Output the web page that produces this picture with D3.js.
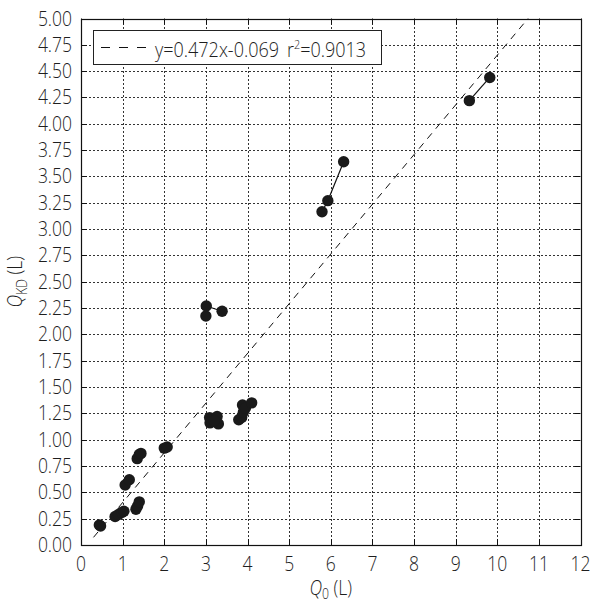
<!DOCTYPE html>
<html>
<head>
<meta charset="utf-8">
<script src="https://cdn.jsdelivr.net/npm/d3@7"></script>
<style>
  html, body { margin: 0; padding: 0; background: #fff; }
  svg { display: block; }
  text { font-family: "Open Sans", "Noto Sans", sans-serif; font-weight: 300; fill: #1e1e1e; }
</style>
</head>
<body>
<svg id="chart" width="590" height="603"></svg>
<script>
// Measured pairs: Q0 (L) against QKD (L); points sharing a group id are joined
const q0  = [9.82, 9.33,
             6.31, 5.93, 5.79,
             3.00, 3.01, 3.39,
             3.09, 3.27, 3.10, 3.30, 3.20,
             3.79, 3.86, 3.90, 3.88, 3.95, 4.10,
             0.44, 0.47,
             0.82, 0.90, 0.98, 1.03,
             1.06, 1.16,
             1.35, 1.40, 1.44,
             2.00, 2.07,
             1.32, 1.36, 1.40];
const qkd = [4.44, 4.22,
             3.64, 3.27, 3.165,
             2.175, 2.27, 2.22,
             1.21, 1.22, 1.16, 1.15, 1.18,
             1.19, 1.21, 1.26, 1.33, 1.30, 1.35,
             0.19, 0.18,
             0.27, 0.29, 0.31, 0.32,
             0.57, 0.62,
             0.82, 0.86, 0.87,
             0.92, 0.93,
             0.34, 0.37, 0.41];
const group = [1, 1,
               2, 2, 2,
               3, 3, 3,
               4, 4, 4, 4, 4,
               5, 5, 5, 5, 5, 5,
               6, 6,
               7, 7, 7, 7,
               8, 8,
               9, 9, 9,
               10, 10,
               11, 11, 11];

// Fitted regression
const slope = 0.472, intercept = -0.069, r2 = 0.9013;
const fitStart = 0.3;

const xTicks = d3.range(0, 13, 1);
const yTicks = d3.range(0, 5.001, 0.25);

const svg = d3.select("#chart");
const margin = { left: 81, right: 9.5, top: 18.5, bottom: 58 };
const W = 590, H = 603;

const x = d3.scaleLinear().domain([0, 12]).range([margin.left, W - margin.right]);
const y = d3.scaleLinear().domain([0, 5]).range([H - margin.bottom, margin.top]);

const x0 = x(0), x1 = x(12), y0 = y(0), y1 = y(5);
const sx = 0.875; // narrow the glyphs

// Dotted grid
const grid = svg.append("g").attr("stroke", "#333").attr("stroke-width", 1)
  .attr("stroke-dasharray", "2,2");
grid.selectAll("line.v").data(xTicks.slice(1, -1)).join("line")
  .attr("x1", d => Math.round(x(d)) + 0.5).attr("x2", d => Math.round(x(d)) + 0.5)
  .attr("y1", y0).attr("y2", y1);
grid.selectAll("line.h").data(yTicks.slice(1, -1)).join("line")
  .attr("y1", d => Math.round(y(d)) + 0.5).attr("y2", d => Math.round(y(d)) + 0.5)
  .attr("x1", x0).attr("x2", x1);

// Inward ticks on all four sides
const tk = svg.append("g").attr("stroke", "#111").attr("stroke-width", 1);
xTicks.forEach(d => {
  const px = Math.round(x(d)) + 0.5;
  tk.append("line").attr("x1", px).attr("x2", px).attr("y1", y0).attr("y2", y0 - 6);
  tk.append("line").attr("x1", px).attr("x2", px).attr("y1", y1).attr("y2", y1 + 6);
});
yTicks.forEach(d => {
  const py = Math.round(y(d)) + 0.5;
  tk.append("line").attr("y1", py).attr("y2", py).attr("x1", x0).attr("x2", x0 + 6);
  tk.append("line").attr("y1", py).attr("y2", py).attr("x1", x1).attr("x2", x1 - 6);
});

// Frame
svg.append("rect")
  .attr("x", Math.round(x0) + 0.5).attr("y", Math.round(y1) + 0.5)
  .attr("width", Math.round(x1) - Math.round(x0)).attr("height", Math.round(y0) - Math.round(y1))
  .attr("fill", "none").attr("stroke", "#111").attr("stroke-width", 1.2);

// Tick labels
svg.append("g").selectAll("text").data(xTicks).join("text")
  .attr("transform", d => `translate(${x(d)},${y0 + 26}) scale(${sx},1)`)
  .attr("text-anchor", "middle").attr("font-size", 20)
  .text(d => d);
svg.append("g").selectAll("text").data(yTicks).join("text")
  .attr("transform", d => `translate(${x0 - 9},${y(d) + 7}) scale(${sx},1)`)
  .attr("text-anchor", "end").attr("font-size", 20)
  .text(d => d3.format(".2f")(d));

// Axis titles
const xt = svg.append("text")
  .attr("transform", `translate(${(x0 + x1) / 2},${595}) scale(${sx},1)`)
  .attr("text-anchor", "middle").attr("font-size", 20);
xt.append("tspan").attr("font-style", "italic").text("Q");
xt.append("tspan").attr("font-size", 14).attr("dy", 4).text("0");
xt.append("tspan").attr("dy", -4).text(" (L)");

const yt = svg.append("text")
  .attr("transform", `translate(${22},${(y0 + y1) / 2}) rotate(-90) scale(${sx},1)`)
  .attr("text-anchor", "middle").attr("font-size", 20);
yt.append("tspan").attr("font-style", "italic").text("Q");
yt.append("tspan").attr("font-size", 14).attr("dy", 5).text("KD");
yt.append("tspan").attr("dy", -5).text(" (L)");

// Regression line, clipped to the plot frame
const fitEnd = Math.min(12, (5 - intercept) / slope);
svg.append("line")
  .attr("x1", x(fitStart)).attr("y1", y(slope * fitStart + intercept))
  .attr("x2", x(fitEnd)).attr("y2", y(slope * fitEnd + intercept))
  .attr("stroke", "#111").attr("stroke-width", 1).attr("stroke-dasharray", "7,6");

// Connecting lines between repeated measures
const pts = q0.map((v, i) => ({ x: v, y: qkd[i], g: group[i] }));
const byGroup = d3.groups(pts, d => d.g);
const line = d3.line().x(d => x(d.x)).y(d => y(d.y));
svg.append("g").selectAll("path").data(byGroup).join("path")
  .attr("d", d => line(d[1]))
  .attr("fill", "none").attr("stroke", "#111").attr("stroke-width", 1.2);

// Points
svg.append("g").selectAll("circle").data(pts).join("circle")
  .attr("cx", d => x(d.x)).attr("cy", d => y(d.y)).attr("r", 5.7)
  .attr("fill", "#1a1a1a");

// Legend
const lg = svg.append("g");
lg.append("rect").attr("x", 93.5).attr("y", 30.5).attr("width", 288).attr("height", 34)
  .attr("fill", "#fff").attr("stroke", "#222").attr("stroke-width", 1);
lg.append("line").attr("x1", 101).attr("x2", 147).attr("y1", 47.5).attr("y2", 47.5)
  .attr("stroke", "#111").attr("stroke-width", 1).attr("stroke-dasharray", "9,9");
lg.append("text")
  .attr("transform", "translate(155,56.5) scale(0.9,1)")
  .attr("font-size", 20)
  .text(`y=${slope}x${intercept}`);
const rt = lg.append("text")
  .attr("transform", "translate(287,56.5) scale(0.9,1)")
  .attr("font-size", 20);
rt.append("tspan").text("r");
rt.append("tspan").attr("font-size", 12).attr("dy", -8).text("2");
rt.append("tspan").attr("dy", 8).text(`=${r2}`);
</script>
</body>
</html>
